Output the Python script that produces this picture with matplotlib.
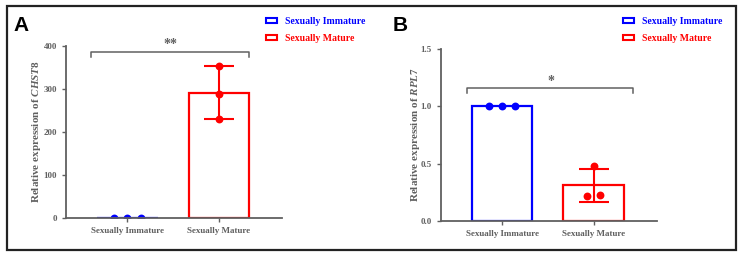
import numpy as np
import matplotlib
matplotlib.use("Agg")
import matplotlib.pyplot as plt
from matplotlib.patches import Patch, Rectangle

# data
groups = ["Sexually Immature", "Sexually Mature"]
chst8_immature = [1.0, 1.0, 1.0]
chst8_mature = [353, 288, 230]
rpl7_immature = [1.0, 1.0, 1.0]
rpl7_mature = [0.48, 0.22, 0.23]
colors = ["#0000ff", "#ff0000"]

# dot spreading (style only)
spread_a = [[-0.146, 0.0, 0.146], [0.0, 0.0, 0.0]]
spread_b = [[-0.142, 0.0, 0.142], [0.0, -0.07, 0.075]]

plt.rcParams["font.family"] = "Liberation Serif"
plt.rcParams["font.weight"] = "bold"
plt.rcParams["mathtext.fontset"] = "custom"
plt.rcParams["mathtext.it"] = "Liberation Serif:italic:bold"
plt.rcParams["mathtext.rm"] = "Liberation Serif:bold"

axis_gray = "#606060"

fig = plt.figure(figsize=(7.42, 2.56), dpi=100)


def panel(rect, samples, spreads, ylim, yticks, yfmt, gene, sig, sig_y, sig_x, lab_x):
    ax = fig.add_axes(rect)
    x = np.arange(len(groups))
    for i, vals in enumerate(samples):
        vals = np.array(vals, dtype=float)
        m = vals.mean()
        sd = vals.std(ddof=1)
        ax.bar(x[i], m, width=0.66, facecolor="none", edgecolor=colors[i],
               linewidth=1.6, zorder=2)
        if sd > 0:
            ax.errorbar(x[i], m, yerr=sd, color=colors[i], capsize=11,
                        elinewidth=1.5, capthick=1.5, zorder=3)
        ax.scatter(x[i] + np.array(spreads[i]), vals, s=32, color=colors[i],
                   zorder=4, linewidths=0)
    ax.set_xlim(-0.67, 1.69)
    ax.set_ylim(*ylim)
    ax.set_yticks(yticks)
    ax.set_yticklabels([yfmt.format(t) for t in yticks])
    ax.set_xticks(x)
    ax.set_xticklabels(groups)
    for s in ["top", "right"]:
        ax.spines[s].set_visible(False)
    for s in ["left", "bottom"]:
        ax.spines[s].set_color(axis_gray)
        ax.spines[s].set_linewidth(1.3)
        ax.spines[s].set_zorder(5)
    ax.tick_params(colors=axis_gray, labelsize=6.5, length=3, width=1.0,
                   direction="out")
    for lab in ax.get_xticklabels() + ax.get_yticklabels():
        lab.set_fontweight("bold")
    ax.set_ylabel("Relative expression of $\\mathit{" + gene + "}$",
                  fontsize=8, color=axis_gray, fontweight="bold")
    ax.yaxis.set_label_coords(lab_x, 0.5)
    # significance bracket
    tick = (ylim[1] - ylim[0]) * 0.03
    ax.plot([sig_x[0], sig_x[0], sig_x[1], sig_x[1]],
            [sig_y - tick, sig_y, sig_y, sig_y - tick],
            color=axis_gray, lw=1.1, clip_on=False)
    ax.text((sig_x[0] + sig_x[1]) / 2 + 0.005, sig_y + tick * 0.1, sig,
            ha="center", va="bottom", fontsize=10, color=axis_gray,
            fontweight="bold")
    return ax


axA = panel([0.0890, 0.1484, 0.2912, 0.673], [chst8_immature, chst8_mature],
            spread_a, (0, 400), [0, 100, 200, 300, 400], "{:.0f}", "CHST8",
            "**", 386, (-0.40, 1.33), -0.107)
axB = panel([0.5943, 0.1367, 0.2907, 0.672], [rpl7_immature, rpl7_mature],
            spread_b, (0, 1.5), [0.0, 0.5, 1.0, 1.5], "{:.1f}", "RPL7",
            "*", 1.157, (-0.38, 1.43), -0.089)

handles = [Patch(facecolor="white", edgecolor=c, linewidth=1.5) for c in colors]
for lx in [266 / 742, 623 / 742]:
    fig.legend(handles, groups, loc="upper left",
               bbox_to_anchor=(lx, 1 - 17 / 256), bbox_transform=fig.transFigure,
               frameon=False, labelcolor=colors,
               handlelength=1.15, handleheight=0.5, handletextpad=0.8,
               labelspacing=0.8, borderpad=0, borderaxespad=0,
               prop={"weight": "bold", "size": 7})

fig.text(13 / 742, 1 - 16 / 256, "A", fontsize=15, fontweight="bold",
         family="Liberation Sans", va="top", ha="left")
fig.text(393 / 742, 1 - 16 / 256, "B", fontsize=15, fontweight="bold",
         family="Liberation Sans", va="top", ha="left")

fig.patches.append(Rectangle((6.5 / 742, 6 / 256), 729.5 / 742, 244.5 / 256,
                             transform=fig.transFigure, fill=False,
                             edgecolor="#222222", linewidth=1.6))

fig.savefig("out.png", dpi=100)
